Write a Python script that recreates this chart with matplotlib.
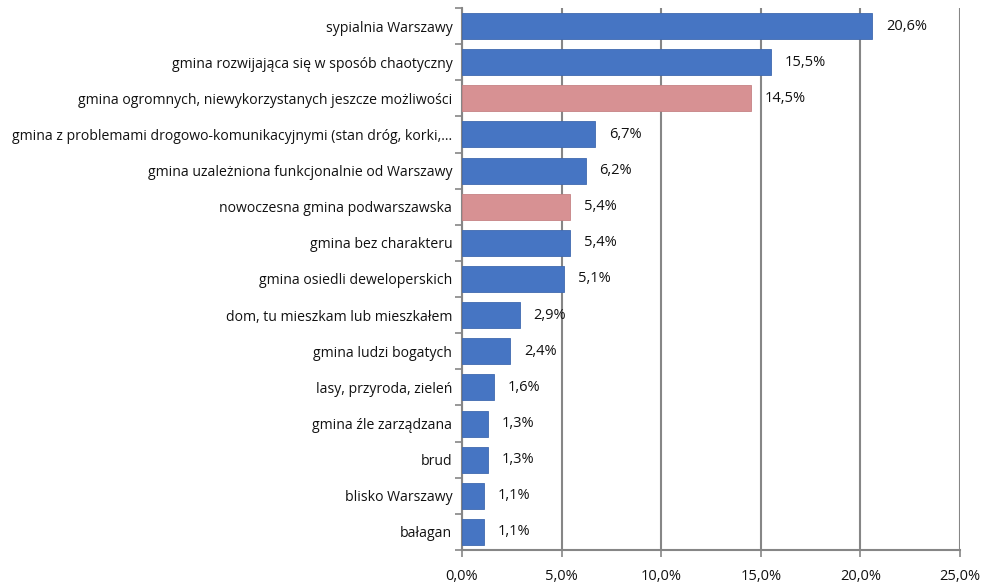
import matplotlib
matplotlib.use("Agg")
import matplotlib.pyplot as plt
from matplotlib.ticker import FixedLocator, FuncFormatter

categories = [
    "sypialnia Warszawy",
    "gmina rozwijająca się w sposób chaotyczny",
    "gmina ogromnych, niewykorzystanych jeszcze możliwości",
    "gmina z problemami drogowo-komunikacyjnymi (stan dróg, korki,...",
    "gmina uzależniona funkcjonalnie od Warszawy",
    "nowoczesna gmina podwarszawska",
    "gmina bez charakteru",
    "gmina osiedli deweloperskich",
    "dom, tu mieszkam lub mieszkałem",
    "gmina ludzi bogatych",
    "lasy, przyroda, zieleń",
    "gmina źle zarządzana",
    "brud",
    "blisko Warszawy",
    "bałagan",
]
values = [20.6, 15.5, 14.5, 6.7, 6.2, 5.4, 5.4, 5.1, 2.9, 2.4, 1.6, 1.3, 1.3, 1.1, 1.1]
highlight = [False, False, True, False, False, True, False, False, False, False, False, False, False, False, False]
xticks = [0, 5, 10, 15, 20, 25]

blue = "#4675C3"
pink = "#D79193"

plt.rcParams['font.family'] = ['Open Sans', 'DejaVu Sans']

fig = plt.figure(figsize=(9.92, 5.86), dpi=100)
ax = fig.add_axes([462/992, 1-550/586, (960-462)/992, (550-8)/586])

n = len(categories)
ypos = list(range(n))
colors = [pink if h else blue for h in highlight]
ax.barh(ypos, values, height=0.72, color=colors, zorder=3,
        edgecolor=["#C58284" if h else "#3F69B0" for h in highlight], linewidth=0.6)
ax.set_ylim(n - 0.5, -0.5)
ax.set_xlim(0, 25)

ax.set_yticks(ypos)
ax.set_yticklabels(categories, fontsize=10.1, color="#111111")
ax.tick_params(axis='y', which='major', length=0, pad=7)
ax.yaxis.set_minor_locator(FixedLocator([i - 0.5 for i in range(n + 1)]))
ax.tick_params(axis='y', which='minor', length=5, width=1.2, color="#868686", direction='out')

ax.xaxis.set_major_locator(FixedLocator(xticks))
ax.xaxis.set_major_formatter(FuncFormatter(lambda v, p: f"{v:.1f}%".replace('.', ',')))
ax.tick_params(axis='x', length=5, width=1.2, color="#868686", labelsize=10.5, pad=9, labelcolor="#111111")

ax.grid(axis='x', color="#868686", linewidth=1.5, zorder=0)
for s in ['top', 'right']:
    ax.spines[s].set_visible(False)
for s in ['left', 'bottom']:
    ax.spines[s].set_color("#868686")
    ax.spines[s].set_linewidth(1.5)

for i, v in enumerate(values):
    ax.text(v + 0.7, i, f"{v:.1f}%".replace('.', ','), va='center', ha='left', fontsize=10.5, color="#111111")

fig.savefig("out.png", dpi=100)
